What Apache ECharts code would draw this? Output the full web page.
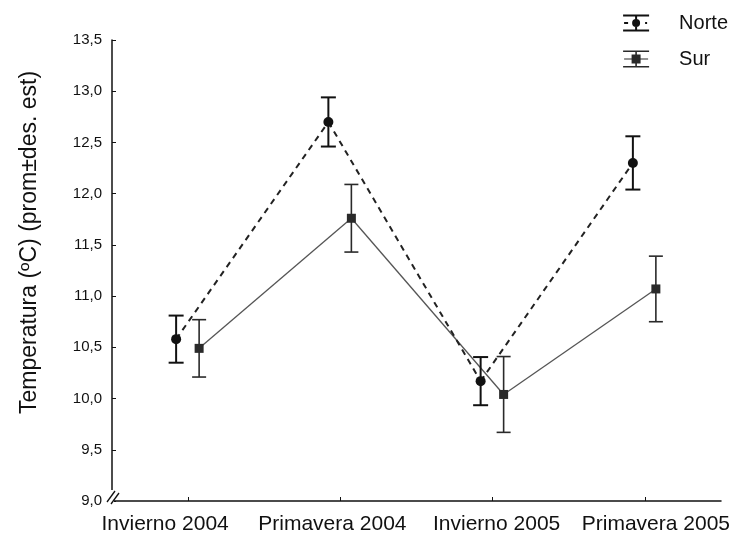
<!DOCTYPE html>
<html>
<head>
<meta charset="utf-8">
<script src="https://cdn.jsdelivr.net/npm/echarts@6/dist/echarts.min.js"></script>
<style>
  html, body { margin: 0; padding: 0; background: #fff; }
  #chart { width: 733px; height: 535px; }
</style>
</head>
<body>
<div id="chart"></div>
<script>
// Seasonal mean temperature with standard deviation, north vs south
const categories = ['Invierno 2004', 'Primavera 2004', 'Invierno 2005', 'Primavera 2005'];
const norteMean = [10.58, 12.70, 10.17, 12.30];
const norteSd   = [0.23, 0.24, 0.235, 0.26];
const surMean   = [10.49, 11.76, 10.04, 11.07];
const surSd     = [0.28, 0.33, 0.37, 0.32];
const yMin = 9.0, yMax = 13.5, yStep = 0.5;

const FONT = '"Liberation Sans", Arial, sans-serif';

// Horizontal nudge of each category label (px, negative = left)
const labelShift = [-23, -8, 4, 11];

// Error-bar series: stem + caps, marker, and the segment joining to the next season
function makeSeries(name, means, sds, opts) {
  const data = means.map((m, i) => [i, m, sds[i]]);
  return {
    name: name,
    type: 'custom',
    itemStyle: { color: opts.color },
    encode: { x: 0, y: 1 },
    data: data,
    z: opts.z,
    renderItem: function (params, api) {
      const i = api.value(0);
      const m = api.value(1);
      const s = api.value(2);
      const p = api.coord([i, m]);
      const hi = api.coord([i, m + s]);
      const lo = api.coord([i, m - s]);
      const x = p[0] + opts.dx;
      const children = [];
      if (i < means.length - 1) {
        const q = api.coord([i + 1, means[i + 1]]);
        children.push({
          type: 'line',
          shape: { x1: x, y1: p[1], x2: q[0] + opts.dx, y2: q[1] },
          style: { stroke: opts.lineColor, lineWidth: opts.lineWidth, lineDash: opts.lineDash || null, fill: null }
        });
      }
      const hw = opts.cap / 2;
      const barStyle = { stroke: opts.color, lineWidth: opts.barWidth, fill: null };
      children.push(
        { type: 'line', shape: { x1: x, y1: hi[1], x2: x, y2: lo[1] }, style: barStyle },
        { type: 'line', shape: { x1: x - hw, y1: hi[1], x2: x + hw, y2: hi[1] }, style: barStyle },
        { type: 'line', shape: { x1: x - hw, y1: lo[1], x2: x + hw, y2: lo[1] }, style: barStyle }
      );
      if (opts.marker === 'circle') {
        children.push({ type: 'circle', shape: { cx: x, cy: p[1], r: opts.size / 2 }, style: { fill: opts.color } });
      } else {
        children.push({ type: 'rect', shape: { x: x - opts.size / 2, y: p[1] - opts.size / 2, width: opts.size, height: opts.size }, style: { fill: opts.color } });
      }
      return { type: 'group', children: children };
    }
  };
}

// Legend glyphs: error bar with marker and line stubs
const norteIcon = 'path://M0,0H26V2H0Z M0,15H26V17H0Z M12,0H14V17H12Z M9,8.5A4,4 0 1,1 17,8.5A4,4 0 1,1 9,8.5Z M1,7.5H5V9.5H1Z M22,7.5H24V9.5H22Z';
const surIcon = 'path://M0,0H26V1.6H0Z M0,15.4H26V17H0Z M12.2,0H13.8V17H12.2Z M8.5,4H17.5V13H8.5Z M1,8H8.5V9H1Z M17.5,8H25V9H17.5Z';

// Rich-text styles that nudge each x label sideways
const labelRich = {};
labelShift.forEach((d, i) => {
  labelRich['c' + i] = {
    fontSize: 21, color: '#111', fontFamily: FONT,
    padding: d < 0 ? [0, -2 * d, 0, 0] : [0, 0, 0, 2 * d]
  };
});

const chart = echarts.init(document.getElementById('chart'), null, { renderer: 'canvas' });
const gridLeft = 112, gridBottom = 33;

chart.setOption({
  backgroundColor: '#ffffff',
  animation: false,
  textStyle: { fontFamily: FONT },
  grid: { left: gridLeft, right: 12, top: 40, bottom: gridBottom },
  legend: {
    orient: 'vertical',
    right: 0,
    top: 8,
    itemWidth: 26,
    itemHeight: 17,
    itemGap: 16,
    textStyle: { fontSize: 20, color: '#111', fontFamily: FONT, padding: [0, 0, 0, 25] },
    data: [
      { name: 'Norte', icon: norteIcon },
      { name: 'Sur', icon: surIcon }
    ]
  },
  xAxis: {
    type: 'category',
    data: categories,
    boundaryGap: true,
    axisLine: { lineStyle: { color: '#111', width: 1.5 } },
    axisTick: { show: true, inside: true, length: 4, alignWithLabel: true, lineStyle: { color: '#111' } },
    axisLabel: {
      fontSize: 21, color: '#111', margin: 13, fontFamily: FONT, interval: 0,
      formatter: (v, i) => '{c' + i + '|' + v + '}',
      rich: labelRich
    },
    splitLine: { show: false }
  },
  yAxis: {
    type: 'value',
    min: yMin,
    max: yMax,
    interval: yStep,
    name: 'Temperatura (ºC) (prom±des. est)',
    nameLocation: 'middle',
    nameGap: 71,
    nameRotate: 90,
    nameTextStyle: { fontSize: 23, color: '#111', fontFamily: FONT, padding: [0, 0, 0, 56] },
    axisLine: { show: true, lineStyle: { color: '#111', width: 1.5 } },
    axisTick: { show: true, inside: true, length: 4, lineStyle: { color: '#111' } },
    axisLabel: {
      fontSize: 15, color: '#111', margin: 10, fontFamily: FONT,
      formatter: v => v.toFixed(1).replace('.', ',')
    },
    splitLine: { show: false }
  },
  series: [
    makeSeries('Norte', norteMean, norteSd, {
      color: '#111', lineColor: '#222', lineWidth: 2, lineDash: [6, 5],
      dx: -12, cap: 15, barWidth: 2, marker: 'circle', size: 10, z: 3
    }),
    makeSeries('Sur', surMean, surSd, {
      color: '#2a2a2a', lineColor: '#555', lineWidth: 1.3,
      dx: 11, cap: 14, barWidth: 1.6, marker: 'rect', size: 9, z: 2
    })
  ]
});

// Axis break mark at the origin
const origin = chart.convertToPixel({ gridIndex: 0 }, [0, yMin]);
const oy = origin[1];
const ox = gridLeft;
chart.setOption({
  graphic: [
    { type: 'rect', shape: { x: ox - 8, y: oy - 11, width: 10, height: 14 }, style: { fill: '#fff' }, z: 100 },
    { type: 'line', shape: { x1: ox - 5, y1: oy + 1, x2: ox + 3, y2: oy - 10 }, style: { stroke: '#111', lineWidth: 1.3 }, z: 101 },
    { type: 'line', shape: { x1: ox - 1, y1: oy + 3, x2: ox + 7, y2: oy - 8 }, style: { stroke: '#111', lineWidth: 1.3 }, z: 101 }
  ]
});
</script>
</body>
</html>
